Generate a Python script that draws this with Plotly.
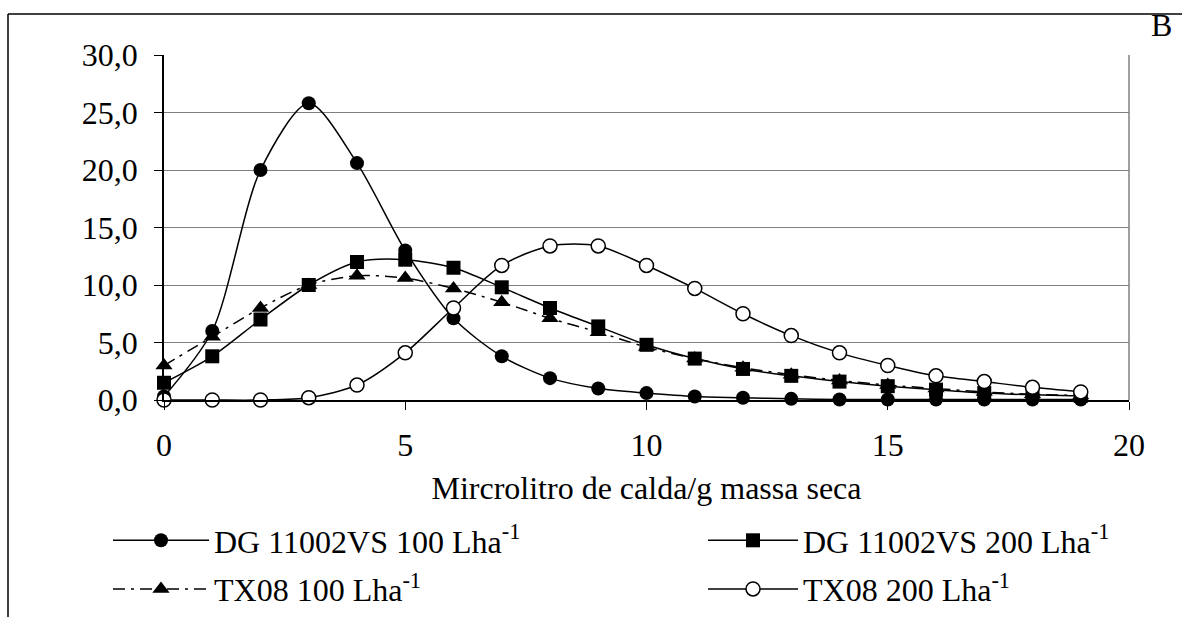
import plotly.graph_objects as go

x_vals = list(range(20))
dg100 = [0.3, 6.0, 20.0, 25.8, 20.6, 13.0, 7.1, 3.8, 1.9, 1.0, 0.6, 0.3, 0.2, 0.1, 0.05, 0.05, 0.05, 0.05, 0.05, 0.05]
dg200 = [1.5, 3.8, 7.0, 10.0, 12.0, 12.2, 11.5, 9.8, 8.0, 6.4, 4.8, 3.6, 2.7, 2.1, 1.6, 1.2, 0.9, 0.6, 0.45, 0.35]
tx100 = [3.0, 5.5, 8.0, 10.0, 10.8, 10.6, 9.7, 8.5, 7.1, 5.9, 4.6, 3.6, 2.8, 2.2, 1.7, 1.3, 1.0, 0.7, 0.5, 0.4]
tx200 = [0.0, 0.0, 0.0, 0.2, 1.3, 4.1, 8.0, 11.7, 13.4, 13.4, 11.7, 9.7, 7.5, 5.6, 4.1, 3.0, 2.1, 1.6, 1.1, 0.7]

names = ["DG 11002VS 100 Lha<sup>-1</sup>", "DG 11002VS 200 Lha<sup>-1</sup>",
         "TX08 100 Lha<sup>-1</sup>", "TX08 200 Lha<sup>-1</sup>"]
x_title = "Mircrolitro de calda/g massa seca"
y_ticks = [0, 5, 10, 15, 20, 25, 30]
x_ticks = [0, 5, 10, 15, 20]

FONT = "Liberation Serif"
FS = 32
fig = go.Figure()
styles = [
    (dg100, dict(symbol="circle", size=14, color="black"), "solid", "legend"),
    (dg200, dict(symbol="square", size=14, color="black"), "solid", "legend2"),
    (tx100, dict(symbol="triangle-up", size=15, color="black"), "12px,6px,3px,6px", "legend"),
    (tx200, dict(symbol="circle", size=14, color="white", line=dict(color="black", width=1.5)), "solid", "legend2"),
]
for i, ((ys, mk, dash, lg), nm) in enumerate(zip(styles, names)):
    fig.add_trace(go.Scatter(
        x=x_vals, y=ys, name=nm, mode="lines+markers", legend=lg, legendgroup=f"g{i}",
        line=dict(color="black", width=1.5, shape="spline", smoothing=0.8, dash=dash),
        marker=mk, cliponaxis=False))

L, R, T, B = 164, 1129, 55, 400
W, H = 1182, 617
pw, ph = R - L, B - T
def px(xp):
    return (xp - L) / pw
def py(yp):
    return (B - yp) / ph

leg_common = dict(orientation="v", xanchor="left", yanchor="top",
                  font=dict(family=FONT, size=FS), tracegroupgap=4,
                  bgcolor="rgba(0,0,0,0)", borderwidth=0)

fig.update_layout(
    width=W, height=H,
    margin=dict(l=L, r=W - R, t=T, b=H - B, autoexpand=False),
    paper_bgcolor="white", plot_bgcolor="white",
    separators=", ",
    font=dict(family=FONT, size=FS, color="black"),
    showlegend=True,
    legend=dict(x=px(108), y=py(513), itemwidth=96, **leg_common),
    legend2=dict(x=px(703), y=py(513), itemwidth=90, **leg_common),
    xaxis=dict(range=[0, 20], tickvals=x_ticks, ticks="outside", ticklen=8, tickcolor="black",
               showline=True, linecolor="black", linewidth=1.5, showgrid=False, zeroline=False,
               ticklabelstandoff=8,
               title=dict(text=x_title, standoff=14, font=dict(family=FONT, size=FS)),
               tickfont=dict(family=FONT, size=FS)),
    yaxis=dict(range=[0, 30], tickvals=y_ticks, tickformat=".1f", ticks="outside", ticklen=8,
               tickcolor="black", showline=True, linecolor="black", linewidth=1.5,
               ticklabelstandoff=10,
               showgrid=True, gridcolor="#808080", gridwidth=1, zeroline=False,
               tickfont=dict(family=FONT, size=FS)),
    shapes=[
        dict(type="line", xref="paper", yref="paper", x0=1, x1=1, y0=0, y1=1,
             line=dict(color="#808080", width=1.5)),
        dict(type="line", xref="paper", yref="paper", x0=px(8), x1=px(1182), y0=py(14), y1=py(14),
             line=dict(color="black", width=1.5)),
        dict(type="line", xref="paper", yref="paper", x0=px(8), x1=px(8), y0=py(14), y1=py(617),
             line=dict(color="black", width=1.5)),
    ],
    annotations=[
        dict(text="B", xref="paper", yref="paper", x=px(1174), y=py(25), xanchor="right",
             yanchor="middle", showarrow=False, font=dict(family=FONT, size=FS)),
    ],
)
fig.write_html("out.html")
